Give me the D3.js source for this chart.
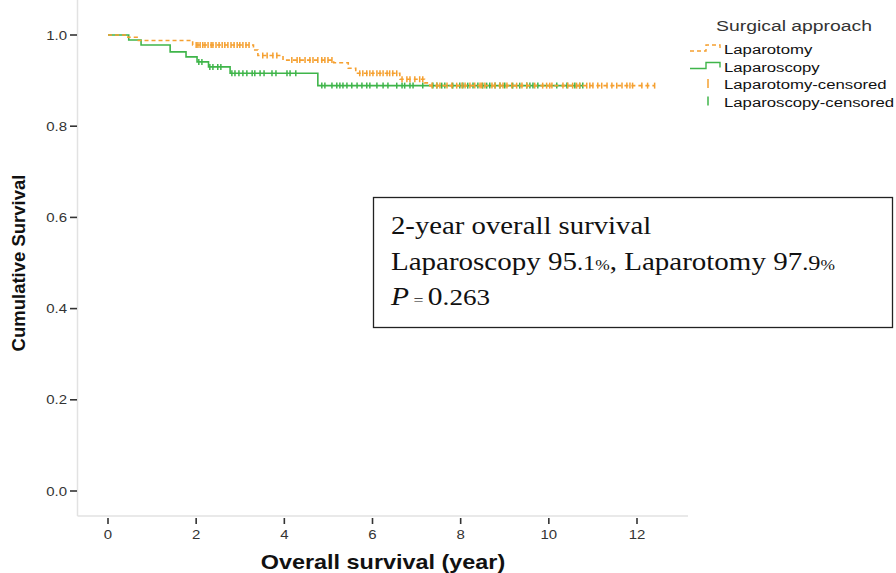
<!DOCTYPE html>
<html>
<head>
<meta charset="utf-8">
<script src="https://cdn.jsdelivr.net/npm/d3@7"></script>
<style>
  body { margin: 0; background: #fff; }
  svg { display: block; }
</style>
</head>
<body>
<svg id="km" width="896" height="573"></svg>
<script>
const svg = d3.select("#km");

// step events: [time (year), survival after the drop]
const laparotomyEvents = [[0.45, 0.995], [0.66, 0.988], [1.92, 0.978], [3.30, 0.967], [3.40, 0.955],
  [3.97, 0.945], [5.12, 0.939], [5.45, 0.927], [5.62, 0.916], [6.62, 0.903], [7.18, 0.895], [7.30, 0.889]];
const laparoscopyEvents = [[0.47, 0.989], [0.75, 0.978], [1.41, 0.963], [1.77, 0.952], [2.02, 0.941],
  [2.28, 0.930], [2.77, 0.916], [4.76, 0.889]];

// censored times
const laparotomyCensored = [2.00, 2.04, 2.09, 2.15, 2.20, 2.27, 2.34, 2.38, 2.45, 2.52, 2.59, 2.65, 2.72, 2.79,
  2.86, 2.93, 2.99, 3.06, 3.13, 3.20, 3.51, 3.61, 3.74, 3.83, 4.17, 4.29, 4.35, 4.47, 4.58, 4.65, 4.76, 4.85,
  4.92, 4.99, 5.08, 5.71, 5.78, 5.87, 5.94, 6.01, 6.10, 6.17, 6.24, 6.33, 6.39, 6.46, 6.55, 6.67, 6.78, 6.85,
  6.96, 7.07, 7.14, 7.35, 7.46, 7.53, 7.69, 7.80, 7.91, 8.03, 8.10, 8.21, 8.32, 8.44, 8.48, 8.55, 8.71, 8.78,
  8.89, 8.96, 9.05, 9.16, 9.27, 9.39, 9.50, 9.68, 9.86, 9.95, 10.02, 10.07, 10.32, 10.43, 10.54, 10.63, 10.70,
  10.86, 10.93, 11.00, 11.11, 11.20, 11.32, 11.43, 11.54, 11.66, 11.77, 11.84, 11.90, 12.11, 12.24, 12.40];
const laparoscopyCensored = [2.06, 2.13, 2.31, 2.38, 2.49, 2.56, 2.81, 2.88, 2.97, 3.06, 3.15, 3.27, 3.33, 3.45,
  3.54, 3.72, 3.81, 4.06, 4.13, 4.26, 4.85, 4.92, 5.08, 5.19, 5.26, 5.33, 5.42, 5.53, 5.65, 5.76, 5.87, 5.94,
  6.10, 6.24, 6.35, 6.55, 6.67, 6.73, 6.85, 6.92, 7.14, 7.37, 7.46, 7.57, 7.64, 7.82, 7.98, 8.05, 8.16, 8.28,
  8.39, 8.50, 8.59, 8.66, 8.78, 8.89, 9.00, 9.18, 9.34, 9.50, 9.57, 9.64, 9.75, 10.18, 10.41, 10.59, 10.70, 10.77];

const xTicks = [0, 2, 4, 6, 8, 10, 12];
const yTicks = [0.0, 0.2, 0.4, 0.6, 0.8, 1.0];

const orange = "#f5a030";
const green = "#3fb54a";
const sans = "Liberation Sans, Arial, sans-serif";
const serif = "Liberation Serif, Times New Roman, serif";
const stretch = 1.2; // the picture's text is a bit wide

const x = d3.scaleLinear().domain([0, 12]).range([108, 637]);
const y = d3.scaleLinear().domain([0, 1]).range([491, 35]);
const frameLeft = 77.5, frameRight = 688, frameBottom = 516;

// text placed at (px,py), widened horizontally
function wideText(parent, px, py, sx) {
  return parent.append("text")
    .attr("transform", `translate(${px},${py}) scale(${sx},1)`);
}

// frame: only left and bottom lines
svg.append("line")
  .attr("x1", frameLeft).attr("x2", frameLeft).attr("y1", 0).attr("y2", frameBottom)
  .attr("stroke", "#e2e2e2").attr("stroke-width", 1.5);
svg.append("line")
  .attr("x1", frameLeft).attr("x2", frameRight).attr("y1", frameBottom).attr("y2", frameBottom)
  .attr("stroke", "#e2e2e2").attr("stroke-width", 1.5);

// y ticks
const yAxis = svg.append("g").attr("font-family", sans).attr("font-size", 12.5).attr("fill", "#333");
yAxis.selectAll("line").data(yTicks).join("line")
  .attr("x1", 70).attr("x2", 77).attr("y1", d => y(d)).attr("y2", d => y(d))
  .attr("stroke", "#333").attr("stroke-width", 1.6);
yTicks.forEach(d => {
  wideText(yAxis, 67, y(d) + 4.5, stretch).attr("text-anchor", "end").text(d.toFixed(1));
});

// x ticks
const xAxis = svg.append("g").attr("font-family", sans).attr("font-size", 12.5).attr("fill", "#333");
xAxis.selectAll("line").data(xTicks).join("line")
  .attr("x1", d => x(d)).attr("x2", d => x(d)).attr("y1", 518).attr("y2", 524)
  .attr("stroke", "#333").attr("stroke-width", 1.6);
xTicks.forEach(d => {
  wideText(xAxis, x(d), 539, stretch).attr("text-anchor", "middle").text(d);
});

// axis titles
wideText(svg, 383, 569, 1.17)
  .attr("text-anchor", "middle")
  .attr("font-family", sans).attr("font-size", 20).attr("font-weight", "bold").attr("fill", "#111")
  .text("Overall survival (year)");
svg.append("text")
  .attr("transform", "translate(25,263) rotate(-90)")
  .attr("text-anchor", "middle")
  .attr("font-family", sans).attr("font-size", 18.5).attr("font-weight", "bold").attr("fill", "#111")
  .text("Cumulative Survival");

// step points from events, running to the last censored time
function stepPoints(events, censored) {
  const pts = [[0, 1]];
  let s = 1;
  events.forEach(([t, v]) => { pts.push([t, s]); pts.push([t, v]); s = v; });
  pts.push([d3.max(censored), s]);
  return pts;
}
function survivalAt(events, t) {
  let s = 1;
  events.forEach(([et, v]) => { if (et <= t) s = v; });
  return s;
}

const line = d3.line().x(d => x(d[0])).y(d => y(d[1]));

function drawGroup(events, censored, color, dashed) {
  const g = svg.append("g");
  g.append("path")
    .datum(stepPoints(events, censored))
    .attr("d", line)
    .attr("fill", "none")
    .attr("stroke", color)
    .attr("stroke-width", 1.6)
    .attr("stroke-dasharray", dashed ? "4,3" : null);
  g.selectAll("line").data(censored).join("line")
    .attr("x1", d => x(d)).attr("x2", d => x(d))
    .attr("y1", d => y(survivalAt(events, d)) - 3)
    .attr("y2", d => y(survivalAt(events, d)) + 3)
    .attr("stroke", color).attr("stroke-width", 1.5);
}

drawGroup(laparoscopyEvents, laparoscopyCensored, green, false);
drawGroup(laparotomyEvents, laparotomyCensored, orange, true);

// legend
const legend = svg.append("g").attr("font-family", sans);
wideText(legend, 716, 31, 1.25).attr("font-size", 15.5).attr("fill", "#333").text("Surgical approach");
const legendItems = [
  { label: "Laparotomy", color: orange, kind: "dash" },
  { label: "Laparoscopy", color: green, kind: "step" },
  { label: "Laparotomy-censored", color: orange, kind: "tick" },
  { label: "Laparoscopy-censored", color: green, kind: "tick" }
];
legendItems.forEach((it, i) => {
  const cy = 49 + i * 17.5;
  if (it.kind === "tick") {
    legend.append("line")
      .attr("x1", 708).attr("x2", 708).attr("y1", cy - 5).attr("y2", cy + 4)
      .attr("stroke", it.color).attr("stroke-width", 1.5);
  } else {
    legend.append("path")
      .attr("d", `M690,${cy + 2}H706V${cy - 4}H720V${cy + 1}`)
      .attr("fill", "none")
      .attr("stroke", it.color).attr("stroke-width", 1.4)
      .attr("stroke-dasharray", it.kind === "dash" ? "4,3" : null);
  }
  wideText(legend, 724, cy + 5, 1.24).attr("font-size", 13.5).attr("fill", "#111").text(it.label);
});

// annotation box
const box = svg.append("g").attr("font-family", serif).attr("fill", "#111");
box.append("rect")
  .attr("x", 373.5).attr("y", 197.5).attr("width", 519).attr("height", 130)
  .attr("fill", "#fff").attr("stroke", "#222").attr("stroke-width", 1.3);
wideText(box, 391, 234, 1.15).attr("font-size", 25).text("2-year overall survival");
const line2 = wideText(box, 391, 270, 1.16).attr("font-size", 25);
line2.append("tspan").text("Laparoscopy 95");
line2.append("tspan").attr("font-size", 21).text(".1");
line2.append("tspan").attr("font-size", 15).text("%");
line2.append("tspan").text(", Laparotomy 97");
line2.append("tspan").attr("font-size", 21).text(".9");
line2.append("tspan").attr("font-size", 15).text("%");
const line3 = wideText(box, 391, 305, 1.18).attr("font-size", 25);
line3.append("tspan").attr("font-style", "italic").text("P");
line3.append("tspan").attr("font-size", 15).text(" = ");
line3.append("tspan").text("0");
line3.append("tspan").attr("font-size", 23).text(".263");
</script>
</body>
</html>
